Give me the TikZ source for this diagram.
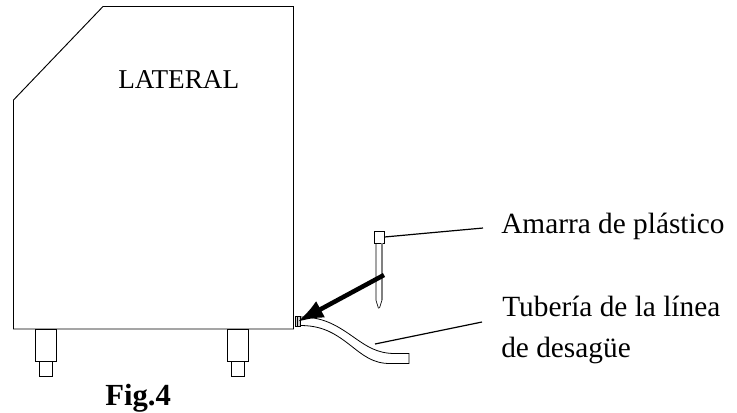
\documentclass[tikz,border=0pt]{standalone}
\usepackage{fontspec}
\setmainfont{Liberation Serif}
\usetikzlibrary{arrows.meta,positioning}
\tikzset{
    body/.style={line width=0.7pt, line join=miter},
    leader/.style={line width=0.9pt},
    caption/.style={font=\fontsize{22}{26}\selectfont, anchor=base west, inner sep=0pt},
}

\begin{document}
\begin{tikzpicture}[x=0.75pt, y=-0.75pt]
        \useasboundingbox (0, 0) rectangle (737, 412);

        % cabinet
        \draw[body] (13.5, 100) -- (103, 6.5) -- (293.5, 6.5) -- (293.5, 329) -- (13.5, 329) -- cycle;
        \node[font=\fontsize{20.4}{24}\selectfont, inner sep=0pt, anchor=base west] (lateral) at (118, 88) {LATERAL};

        % feet
        \foreach \x in {35, 227} {
            \draw[body] (\x, 329) rectangle ++(21, 32);
            \draw[body] (\x+4, 361) rectangle ++(13, 15);
        }

        % drain hose
        \draw[line width=0.6pt] (300, 317) to[out=0, in=145] (352, 336) to[out=-35, in=180] (395, 353.5) -- (409, 353.5) -- ++(0, 10) -- (390, 363.5) to[out=180, in=-38] (350, 345) to[out=142, in=0] (300, 325.5);
        \draw[line width=0.6pt, fill=gray!40] (295, 316) rectangle (300, 326);
        \draw[line width=0.6pt] (297.5, 316) -- ++(0, 10);
        \coordinate (hose) at (375, 344);
        \coordinate (clamp) at (297, 322);

        % cable tie
        \node[draw, minimum width=7.5pt, minimum height=9pt, inner sep=0pt, line width=0.5pt] (head) at (379, 237) {};
        \draw[line width=0.5pt] (head.south) ++(-3, 0) -- ++(0, 57) -- ++(2.5, 8);
        \draw[line width=1pt, gray] (head.south) ++(3, 0) -- ++(0, 57);
        \draw[line width=0.5pt] (382, 300) -- (379.5, 308);
        \coordinate (tie) at (384, 275);

        % labels
        \node[caption] (amarra) at (501, 233) {Amarra de plástico};
        \node[caption] (tuberia) at (502, 316) {Tubería de la línea};
        \node[caption] (desague) at (501, 357) {de desagüe};
        \node[font=\fontsize{23}{27}\selectfont\bfseries, inner sep=0pt, anchor=base west] (fig) at (105, 405) {Fig.4};

        % leaders
        \draw[leader] (head.east) -- (483, 228);
        \draw[leader] (hose) -- (482, 322);
        \draw[line width=3.4pt, -{Latex[length=20pt, width=14pt]}] (tie) -- (clamp);
    \end{tikzpicture}
\end{document}
